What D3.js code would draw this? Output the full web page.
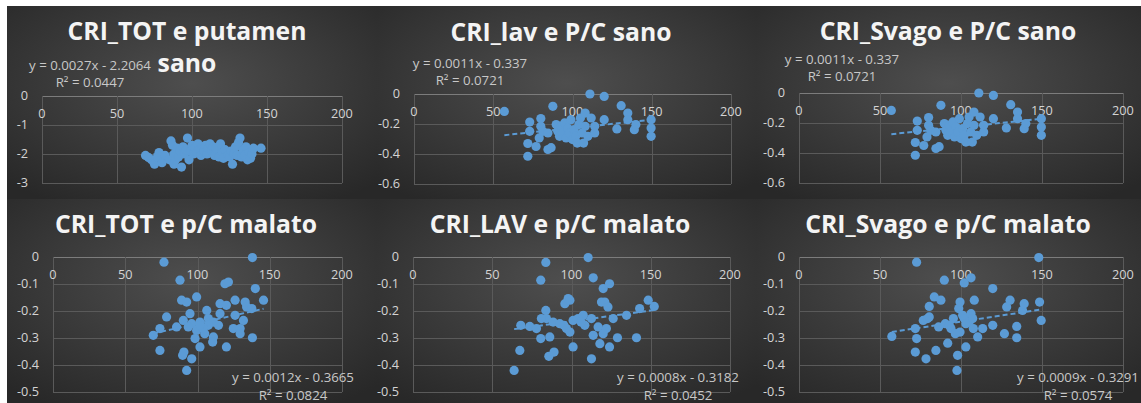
<!DOCTYPE html>
<html><head><meta charset="utf-8">
<script src="https://cdn.jsdelivr.net/npm/d3@7"></script>
<style>
html,body{margin:0;padding:0;background:#fff;}
svg{display:block;}
</style></head>
<body>
<svg id="c" width="1141" height="403"></svg>
<script>
// ---------- DATA ----------
const xTicks = [0, 50, 100, 150, 200];
const yTicksPutamen = [0, -1, -2, -3];
const yTicksSano = [0, -0.2, -0.4, -0.6];
const yTicksMalato = [0, -0.1, -0.2, -0.3, -0.4, -0.5];

const titles = [
  ["CRI_TOT e putamen", "sano"],
  ["CRI_lav e P/C sano"],
  ["CRI_Svago e P/C sano"],
  ["CRI_TOT e p/C malato"],
  ["CRI_LAV e p/C malato"],
  ["CRI_Svago e p/C malato"]
];
const equations = [
  ["y = 0.0027x - 2.2064", "R\u00B2 = 0.0447"],
  ["y = 0.0011x - 0.337", "R\u00B2 = 0.0721"],
  ["y = 0.0011x - 0.337", "R\u00B2 = 0.0721"],
  ["y = 0.0012x - 0.3665", "R\u00B2 = 0.0824"],
  ["y = 0.0008x - 0.3182", "R\u00B2 = 0.0452"],
  ["y = 0.0009x - 0.3291", "R\u00B2 = 0.0574"]
];
const slopes = [0.0027, 0.0011, 0.0011, 0.0012, 0.0008, 0.0009];
const intercepts = [-2.2064, -0.337, -0.337, -0.3665, -0.3182, -0.3291];

const putamenSano = [[69,-2.05],[71,-2.12],[73,-2.2],[75,-2.35],[77,-2.1],[78,-1.95],[80,-2.3],[82,-2.05],[85,-2.2],[86,-1.55],[87,-1.7],[88,-2.0],[88,-2.35],[89,-2.2],[90,-1.8],[91,-2.1],[92,-1.9],[93,-2.45],[94,-1.75],[95,-2.0],[96,-1.85],[97,-1.45],[98,-2.2],[99,-1.9],[100,-1.7],[101,-2.0],[102,-1.8],[103,-1.95],[104,-1.65],[105,-1.85],[106,-2.05],[107,-1.75],[108,-1.9],[109,-1.7],[110,-2.0],[111,-1.8],[112,-1.65],[113,-1.9],[114,-1.75],[115,-2.05],[116,-1.8],[118,-2.1],[119,-1.65],[120,-1.95],[121,-2.15],[122,-1.85],[124,-2.05],[125,-2.1],[126,-1.9],[127,-2.35],[128,-2.0],[129,-1.75],[130,-2.05],[131,-1.6],[132,-1.45],[133,-2.1],[134,-1.85],[135,-2.05],[136,-1.75],[137,-2.2],[138,-1.95],[139,-2.15],[140,-2.0],[141,-1.8],[146,-1.8]];

const pcSano = [[57,-0.116],[73,-0.187],[73,-0.249],[71.8,-0.33],[71.8,-0.415],[77,-0.35],[80,-0.164],[80,-0.215],[79,-0.293],[81.3,-0.249],[84.5,-0.26],[84.5,-0.37],[86.5,-0.358],[87.6,-0.082],[89.7,-0.204],[90.7,-0.249],[91.8,-0.282],[92.8,-0.215],[93.9,-0.26],[95,-0.193],[96,-0.293],[97,-0.227],[98,-0.26],[99,-0.171],[100,-0.304],[101,-0.238],[102,-0.282],[103,-0.327],[104,-0.204],[105,-0.16],[106,-0.26],[107,-0.327],[108,-0.127],[108,-0.215],[109.7,-0.282],[111,0],[111.8,-0.16],[114,-0.26],[114,-0.215],[120,-0.016],[120,-0.171],[128,-0.233],[130.7,-0.078],[134.9,-0.127],[134.9,-0.171],[139,-0.238],[140,-0.204],[149.6,-0.171],[149.6,-0.227],[149.6,-0.282]];

const totMalato = [[76.8,-0.019],[138,-0.002],[87.9,-0.086],[121.4,-0.093],[119,-0.099],[140,-0.117],[89,-0.16],[92.5,-0.167],[99.4,-0.148],[115.6,-0.173],[120,-0.179],[126,-0.16],[133,-0.167],[134,-0.185],[137.6,-0.191],[145.7,-0.16],[106.4,-0.198],[115.6,-0.21],[126,-0.216],[78.6,-0.222],[94.8,-0.21],[90.2,-0.235],[96,-0.247],[101.7,-0.241],[107.5,-0.228],[111,-0.241],[114.5,-0.253],[85.5,-0.259],[74,-0.265],[69.4,-0.29],[99.4,-0.272],[105,-0.284],[107.5,-0.253],[111,-0.296],[124.8,-0.265],[129.5,-0.265],[129.5,-0.284],[131.8,-0.235],[98.3,-0.302],[110.5,-0.315],[138,-0.299],[74,-0.346],[101.7,-0.333],[120,-0.333],[89.7,-0.364],[90.6,-0.352],[96,-0.377],[92.5,-0.42],[104,-0.265],[93.6,-0.259],[101.7,-0.253]];

const lavMalato = [[63.8,-0.42],[67.4,-0.346],[68,-0.253],[73.7,-0.257],[77.9,-0.265],[80.6,-0.302],[80.6,-0.086],[83.8,-0.02],[83.8,-0.198],[84.2,-0.228],[81,-0.228],[86.3,-0.296],[85.7,-0.368],[89,-0.352],[88.4,-0.241],[95.2,-0.253],[95.8,-0.173],[97.9,-0.154],[99,-0.16],[96.8,-0.265],[99,-0.278],[101,-0.333],[101,-0.235],[104.2,-0.228],[107.4,-0.216],[108.4,-0.253],[110.5,-0.002],[112.6,-0.228],[113.7,-0.077],[113.7,-0.29],[112.6,-0.377],[116.8,-0.259],[117.9,-0.321],[118.9,-0.167],[120,-0.117],[121,-0.167],[122,-0.265],[120,-0.284],[123,-0.185],[124,-0.099],[124,-0.333],[126.3,-0.228],[129,-0.299],[134.7,-0.216],[141,-0.299],[143,-0.191],[148.4,-0.16],[152.2,-0.183],[92.6,-0.247],[106,-0.241]];

const svagoMalato = [[57.3,-0.294],[72.6,-0.019],[71.8,-0.265],[72.6,-0.302],[71.8,-0.352],[78.4,-0.377],[76.7,-0.235],[79.4,-0.228],[80.4,-0.183],[80.4,-0.222],[83.5,-0.148],[84.5,-0.346],[86.2,-0.259],[87.6,-0.16],[89.7,-0.086],[90.3,-0.247],[91.8,-0.319],[92.8,-0.253],[93.8,-0.265],[95.3,-0.228],[96.5,-0.284],[97.9,-0.364],[97.5,-0.42],[98.6,-0.191],[99.4,-0.167],[99.4,-0.278],[101,-0.216],[102,-0.228],[102,-0.096],[103,-0.333],[106.2,-0.077],[105,-0.241],[106.2,-0.21],[107.2,-0.228],[108.2,-0.16],[107.6,-0.265],[110.3,-0.296],[113.4,-0.265],[119.6,-0.117],[119.6,-0.253],[126.8,-0.284],[128.2,-0.185],[130.3,-0.16],[134.4,-0.257],[134.4,-0.299],[138,-0.198],[139,-0.173],[148,-0.002],[148.5,-0.167],[149.5,-0.235],[103,-0.247]];

const seriesList = [putamenSano, pcSano, pcSano, totMalato, lavMalato, svagoMalato];
const yTickList = [yTicksPutamen, yTicksSano, yTicksSano, yTicksMalato, yTicksMalato, yTicksMalato];

// ---------- LAYOUT ----------
const panels = [
  {bx:7,   by:6,   bw:370, bh:193, px:[42,342],  py:[96,183],  tc:187, tb:40, ec:90,   ey:[65,82]},
  {bx:377, by:6,   bw:379, bh:193, px:[414,731], py:[94,184],  tc:561, tb:41, ec:470,  ey:[63,80]},
  {bx:756, by:6,   bw:385, bh:193, px:[799,1123],py:[93,183],  tc:948, tb:40, ec:842,  ey:[59,76]},
  {bx:7,   by:199, bw:370, bh:204, px:[53,342],  py:[257,392], tc:186, tb:233, ec:293, ey:[377,395]},
  {bx:377, by:199, bw:379, bh:204, px:[413,730], py:[257,392], tc:560, tb:233, ec:678, ey:[377,395]},
  {bx:756, by:199, bw:385, bh:204, px:[799,1123],py:[257,392], tc:948, tb:233, ec:1078,ey:[377,395]}
];

const FONT = "'Open Sans', sans-serif";
const svg = d3.select("#c");

// font size that gives a sample string a target width
function fitSize(sample, target, weight) {
  const t = svg.append("text").attr("font-family", FONT).attr("font-size", 20)
    .attr("font-weight", weight).text(sample);
  const w = t.node().getComputedTextLength();
  t.remove();
  return 20 * target / w;
}
const tickSize = fitSize("-0.6", 22, 400);
const eqSize = Math.min(13.5, fitSize("y = 0.0027x - 2.2064", 122, 400));
const titleSize = fitSize("CRI_TOT e p/C malato", 262, 700);

const defs = svg.append("defs");
const grad = defs.append("radialGradient").attr("id","bg")
  .attr("cx","50%").attr("cy","40%").attr("r","72%");
grad.append("stop").attr("offset","0%").attr("stop-color","#4e4e4e");
grad.append("stop").attr("offset","100%").attr("stop-color","#282828");

const dotColor = "#5b9bd5";

panels.forEach((p, i) => {
  const g = svg.append("g");
  g.append("rect").attr("x",p.bx).attr("y",p.by).attr("width",p.bw).attr("height",p.bh)
    .attr("fill","url(#bg)");

  const yTicks = yTickList[i];
  const x = d3.scaleLinear().domain([0,200]).range(p.px);
  const y = d3.scaleLinear().domain([d3.min(yTicks), 0]).range([p.py[1], p.py[0]]);

  g.append("g").selectAll("line").data(yTicks).join("line")
    .attr("x1",p.px[0]).attr("x2",p.px[1]).attr("y1",d=>Math.round(y(d))+0.5).attr("y2",d=>Math.round(y(d))+0.5)
    .attr("stroke", d => d===0 ? "#7c7c7c" : "#5a5a5a").attr("stroke-width",1);
  g.append("g").selectAll("line").data(xTicks).join("line")
    .attr("x1",d=>Math.round(x(d))+0.5).attr("x2",d=>Math.round(x(d))+0.5).attr("y1",p.py[0]).attr("y2",p.py[1])
    .attr("stroke","#5a5a5a").attr("stroke-width",1);

  g.append("g").selectAll("text").data(yTicks).join("text")
    .attr("x",p.px[0]-14).attr("y",d=>y(d)).attr("dy","0.35em")
    .attr("text-anchor","end").attr("fill","#d4d4d4")
    .attr("font-family",FONT).attr("font-size",tickSize)
    .text(d => String(d));
  g.append("g").selectAll("text").data(xTicks).join("text")
    .attr("x",d=>x(d)).attr("y",y(0)+18).attr("dy","0.35em")
    .attr("text-anchor","middle").attr("fill","#d4d4d4")
    .attr("font-family",FONT).attr("font-size",tickSize)
    .text(d => String(d));

  const data = seriesList[i];
  const [x0, x1] = d3.extent(data, d=>d[0]);
  const f = v => slopes[i]*v + intercepts[i];
  g.append("line")
    .attr("x1",x(x0)).attr("y1",y(f(x0))).attr("x2",x(x1)).attr("y2",y(f(x1)))
    .attr("stroke",dotColor).attr("stroke-width",2).attr("stroke-dasharray","5,3");

  g.append("g").selectAll("circle").data(data).join("circle")
    .attr("cx",d=>x(d[0])).attr("cy",d=>y(d[1])).attr("r",4.6)
    .attr("fill",dotColor);

  titles[i].forEach((t, k) => {
    g.append("text").attr("x",p.tc).attr("y",p.tb + k*32)
      .attr("text-anchor","middle").attr("fill","#f4f4f4")
      .attr("font-family",FONT).attr("font-weight",700)
      .attr("font-size",titleSize)
      .text(t);
  });
  equations[i].forEach((t, k) => {
    g.append("text").attr("x",p.ec).attr("y",p.ey[k]).attr("dy","0.35em")
      .attr("text-anchor","middle").attr("fill","#c8c8c8")
      .attr("font-family",FONT).attr("font-size",eqSize)
      .text(t);
  });
});
</script>
</body></html>
